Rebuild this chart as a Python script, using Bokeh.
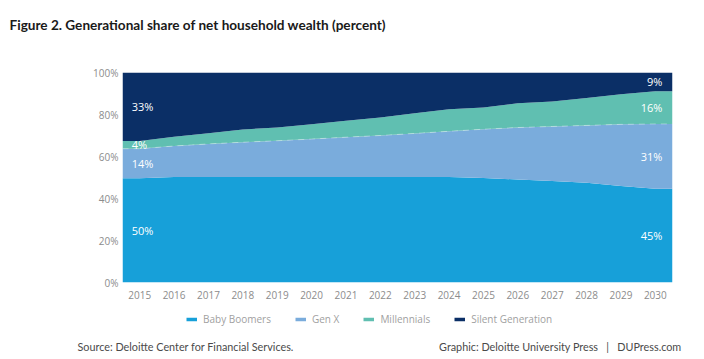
from bokeh.plotting import figure
from bokeh.layouts import column
from bokeh.models import (Range1d, FixedTicker, Label, Legend, LegendItem,
                          ColumnDataSource, PrintfTickFormatter, Plot)
from bokeh.embed import file_html
from bokeh.resources import INLINE
from bokeh.core.properties import value

# ---------------- data ----------------
years = list(range(2015, 2031))
boomers = [49.6, 50.2, 50.2, 50.2, 50.2, 50.2, 50.2, 50.2, 50.2, 50.2, 49.8, 49.0, 48.3, 47.5, 46.0, 44.6]
gen_x = [14.1, 14.8, 15.8, 16.6, 17.3, 18.1, 19.0, 19.8, 20.8, 21.8, 23.2, 24.8, 26.0, 27.3, 29.3, 30.9]
millennials = [3.7, 4.4, 5.1, 6.1, 6.3, 7.1, 7.8, 8.6, 9.6, 10.5, 10.3, 11.5, 11.9, 13.0, 14.4, 15.6]
silent = [32.6, 30.6, 28.9, 27.1, 26.2, 24.6, 23.0, 21.4, 19.4, 17.5, 16.7, 14.7, 13.8, 12.2, 10.3, 8.9]
series_names = ["Baby Boomers", "Gen X", "Millennials", "Silent Generation"]
y_ticks = [0, 20, 40, 60, 80, 100]
title_text = "Figure 2. Generational share of net household wealth (percent)"
source_text = "Source: Deloitte Center for Financial Services."
NB = "\u00a0"
credit_text = "Graphic: Deloitte University Press" + NB * 3 + "|" + NB * 3 + "DUPress.com"

colors = ["#17a0d9", "#7aacdc", "#60bfb1", "#0b2f66"]
FONT = "Open Sans"
W = 704
HAS_FRAME_ALIGN = "frame_align" in Plot.properties()


def no_align(f):
    if HAS_FRAME_ALIGN:
        f.frame_align = False
    return f


def bare_fig(height):
    f = figure(width=W, height=height, output_backend="svg", toolbar_location=None,
               x_range=Range1d(0, W), y_range=Range1d(height, 0),
               x_axis_location=None, y_axis_location=None,
               min_border=0, min_border_left=0, min_border_right=0,
               min_border_top=0, min_border_bottom=0)
    f.outline_line_color = None
    f.xgrid.visible = False
    f.ygrid.visible = False
    return no_align(f)


# ---------------- title strip ----------------
top = bare_fig(60)
top.add_layout(Label(x=9, y=24, text=title_text, text_font="Lato",
                     text_font_style="bold", text_font_size="13.6px",
                     text_color="#1a1a1a", text_baseline="middle"))

# ---------------- main chart ----------------
series = [boomers, gen_x, millennials, silent]
x_start = years[0] - 0.5
x_end = years[-1] + 0.5
xs = [x_start] + years + [x_end]

data = {"x": xs}
cum = [0.0] * len(xs)
bottoms = []
for i, s in enumerate(series):
    ext = [s[0]] + s + [s[-1]]
    b = cum[:]
    cum = [c + v for c, v in zip(cum, ext)]
    data[f"b{i}"] = b
    data[f"t{i}"] = cum[:]
    bottoms.append(b)
src = ColumnDataSource(data)

p = figure(width=W, height=246, output_backend="svg", toolbar_location=None,
           x_range=Range1d(x_start, x_end), y_range=Range1d(0, 100),
           min_border_left=122, min_border_right=32, min_border_top=12,
           min_border_bottom=24)
no_align(p)
p.outline_line_color = None
p.xgrid.visible = False
p.ygrid.visible = False

for i in range(4):
    p.varea(x="x", y1=f"b{i}", y2=f"t{i}", source=src, fill_color=colors[i])

p.line(x="x", y="t1", source=src, line_color="white", line_alpha=0.35,
       line_width=1, line_dash="6 5")

lx, ly, lt, lo, la = [], [], [], [], []
for i, s in enumerate(series):
    lx += [years[0], years[-1]]
    ly += [bottoms[i][1] + s[0] / 2, bottoms[i][-2] + s[-1] / 2]
    lt += [f"{round(s[0])}%", f"{round(s[-1])}%"]
    lo += [-8, 7]
    la += ["left", "right"]
lab_src = ColumnDataSource(dict(x=lx, y=ly, t=lt, o=lo, a=la))
p.text(x="x", y="y", text="t", x_offset="o", text_align="a", source=lab_src,
       text_baseline="middle", text_color="white", text_font=value(FONT),
       text_font_size="11px")

p.xaxis.ticker = FixedTicker(ticks=years)
p.yaxis.ticker = FixedTicker(ticks=y_ticks)
p.yaxis.formatter = PrintfTickFormatter(format="%d%%")
for ax in (p.xaxis[0], p.yaxis[0]):
    ax.axis_line_color = None
    ax.major_tick_line_color = None
    ax.minor_tick_line_color = None
    ax.major_tick_in = 0
    ax.major_tick_out = 0
    ax.major_label_text_font = FONT
    ax.major_label_text_font_size = "10px"
    ax.major_label_text_color = "#8c8c8c"
p.xaxis.major_label_standoff = 8
p.yaxis.major_label_standoff = 4

# ---------------- legend + source strip ----------------
bot = bare_fig(50)
# legend renderers share the series data; their lines fall outside this strip's
# ranges so only the legend swatches are visible
legend_rs = [bot.line(x="x", y=f"t{i}", source=src, line_color=c, line_width=3.5)
             for i, c in enumerate(colors)]
legend = Legend(items=[LegendItem(label=n, renderers=[r]) for n, r in zip(series_names, legend_rs)],
                orientation="horizontal", location=(186, 30),
                glyph_width=11, glyph_height=10, label_standoff=6, spacing=24,
                label_text_font=FONT, label_text_font_size="10px",
                label_text_color="#9f9f9f", border_line_color=None,
                background_fill_alpha=0, padding=0, margin=0)
bot.add_layout(legend)
bot.add_layout(Label(x=77, y=40, text=source_text, text_font="Lato",
                     text_font_size="10.8px", text_color="#4a4a4a",
                     text_baseline="middle"))
bot.add_layout(Label(x=681, y=40, text=credit_text, text_font="Lato",
                     text_font_size="10.8px", text_color="#4a4a4a",
                     text_baseline="middle", text_align="right"))

layout = column(top, p, bot, spacing=0)
open("out.html", "w").write(file_html(layout, INLINE))
